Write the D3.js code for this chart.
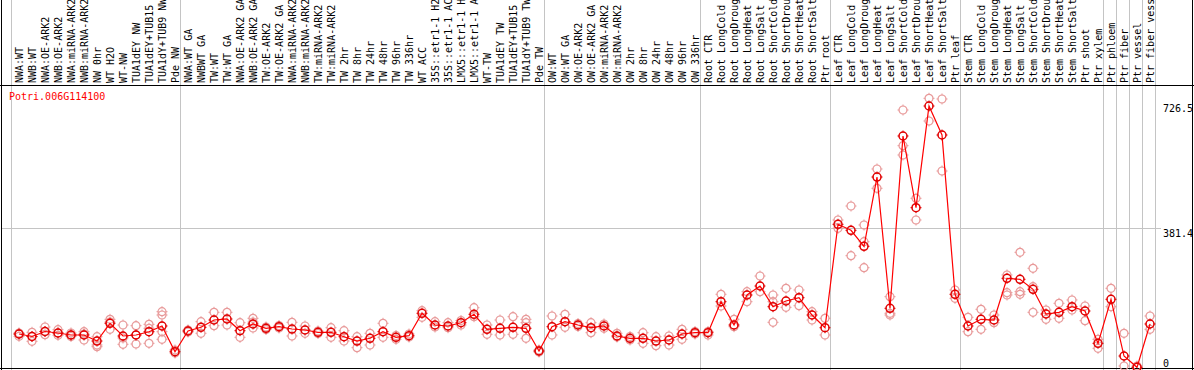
<!DOCTYPE html>
<html>
<head>
<meta charset="utf-8">
<script src="https://cdn.jsdelivr.net/npm/d3@7"></script>
<style>
  body { margin: 0; background: #fff; }
  svg { display: block; }
  text { font-family: "DejaVu Sans Mono", "Liberation Mono", monospace; font-size: 10px; }
</style>
</head>
<body>
<div id="chart"></div>
<script>
'use strict'
// sample labels, left to right
const samples = [
  "NWA:WT", "NWB:WT", "NWA:OE-ARK2", "NWB:OE-ARK2", "NWA:miRNA-ARK2", "NWB:miRNA-ARK2",
  "NW 0hr", "WT H2O", "WT-NW", "TUA1dEY NW", "TUA1dEY+TUB15 NW", "TUA1dY+TUB9 NW", "Pde NW",
  "NWA:WT GA", "NWBWT GA", "TW:WT", "TW:WT GA", "NWA:OE-ARK2 GA", "NWB:OE-ARK2 GA",
  "TW:OE-ARK2", "TW:OE-ARK2 GA", "NWA:miRNA-ARK2 GA", "NWB:miRNA-ARK2 GA", "TW:miRNA-ARK2",
  "TW:miRNA-ARK2 GA", "TW 2hr", "TW 8hr", "TW 24hr", "TW 48hr", "TW 96hr", "TW 336hr", "WT ACC",
  "35S::etr1-1 H2O", "35S::etr1-1 ACC", "LMX5::etr1-1 H2O", "LMX5::etr1-1 ACC", "WT-TW",
  "TUA1dEY TW", "TUA1dEY+TUB15 TW", "TUA1dY+TUB9 TW", "Pde TW",
  "OW:WT", "OW:WT GA", "OW:OE-ARK2", "OW:OE-ARK2 GA", "OW:miRNA-ARK2", "OW:miRNA-ARK2 GA",
  "OW 2hr", "OW 8hr", "OW 24hr", "OW 48hr", "OW 96hr", "OW 336hr",
  "Root CTR", "Root LongCold", "Root LongDrought", "Root LongHeat", "Root LongSalt",
  "Root ShortCold", "Root ShortDrought", "Root ShortHeat", "Root ShortSalt", "Ptr root",
  "Leaf CTR", "Leaf LongCold", "Leaf LongDrought", "Leaf LongHeat", "Leaf LongSalt",
  "Leaf ShortCold", "Leaf ShortDrought", "Leaf ShortHeat", "Leaf ShortSalt", "Ptr leaf",
  "Stem CTR", "Stem LongCold", "Stem LongDrought", "Stem LongHeat", "Stem LongSalt",
  "Stem ShortCold", "Stem ShortDrought", "Stem ShortHeat", "Stem ShortSalt", "Ptr shoot", "Ptr xylem",
  "Ptr phloem", "Ptr fiber", "Ptr vessel", "Ptr fiber vessel"
]
// index of the first sample of each group
const groupStarts = [0, 13, 41, 53, 63, 73, 84, 85, 86, 87]

// mean expression level per sample
const means = [
  91.8, 85.0, 98.7, 94.6, 89.1, 89.1, 72.6, 121.2, 86.4, 89.1, 98.1, 113.8, 43.3,
  100.1, 110.2, 130.2, 133.0, 100.9, 119.3, 107.5, 111.9, 105.5, 102.8, 96.5, 96.5, 84.4,
  72.6, 80.1, 98.1, 82.8, 87.2, 148.6, 116.5, 113.8, 122.8, 145.8, 104.7, 107.5, 110.2, 107.5, 45.2,
  111.9, 125.6, 116.5, 109.1, 113.8, 86.4, 80.1, 80.1, 72.6, 75.4, 91.8, 95.4,
  95.4, 180.4, 116.5, 198.8, 223.4, 166.7, 182.3, 191.4, 143.9, 109.1,
  392.6, 376.1, 332.3, 522.2, 162.3, 634.7, 438.1, 716.9, 637.4, 200.7,
  113.8, 132.1, 130.2, 244.5, 241.8, 214.4, 146.7, 151.3, 166.7, 154.9, 66.3,
  187.0, 31.5, 0.5, 119.3
]
// individual replicates per sample
const replicates = [
  [94.6, 85.5, 91.8], [96.5, 71.8, 85.0], [111.0, 89.9, 98.7], [103.6, 88.3, 94.6],
  [94.6, 89.1, 85.0], [98.1, 75.4, 91.8], [84.4, 61.7, 57.0], [132.1, 104.7, 124.7],
  [116.5, 63.6, 80.9], [114.6, 64.4, 89.1], [118.4, 107.5, 66.3], [153.0, 143.9, 98.1, 77.3],
  [48.0, 39.8],
  [102.8, 97.3], [125.6, 93.8], [151.3, 114.6], [151.3, 116.5], [122.8, 82.8],
  [134.9, 124.7, 108.3], [111.0, 104.1], [115.1, 108.3], [123.9, 86.4], [113.8, 93.8],
  [100.1, 93.2], [109.1, 82.8], [100.9, 72.6], [84.4, 54.3], [93.8, 61.7], [121.2, 82.8],
  [87.7, 77.3], [91.8, 83.6], [155.7, 137.6], [125.6, 111.0], [122.8, 109.1], [128.9, 116.5],
  [163.9, 139.3], [116.5, 91.0], [130.2, 89.1], [139.3, 91.0], [132.1, 122.8, 80.1], [48.0, 42.5],
  [141.2, 89.1], [145.8, 110.2], [120.6, 112.4], [122.8, 95.4], [119.3, 107.5], [93.8, 83.6],
  [85.0, 75.4], [95.4, 66.3], [84.4, 59.8], [86.4, 61.7], [104.7, 77.3], [98.7, 91.8],
  [98.7, 89.1], [200.7, 168.6], [132.1, 111.9], [207.8, 180.4], [250.8, 207.8],
  [198.8, 180.4, 123.9], [217.1, 165.0], [212.5, 169.4], [153.0, 130.2], [134.9, 89.1],
  [404.4, 381.6], [442.7, 306.5], [390.7, 344.9, 273.6], [544.2, 491.3], [194.1, 148.6, 143.9],
  [705.9, 608.1, 582.6], [463.9, 404.4], [738.0, 675.8], [736.1, 538.7], [212.5, 189.7],
  [137.6, 98.1], [159.6, 104.7], [143.9, 122.8], [253.6, 205.1, 198.8], [315.8, 207.8, 200.7],
  [272.0, 221.5, 151.3], [157.6, 132.1], [176.0, 134.9], [185.1, 157.6], [168.6, 128.3],
  [77.3, 52.6], [217.1, 166.7], [93.8, 4.1], [4.1, 0], [141.2, 104.7]
]
const yTicks = [0, 381.4, 726.5]
const gridValues = [381.4]
const title = "Potri.006G114100"

const width = 1194
const height = 370
const labelBottom = 85
const red = "#ff0000"
const pink = "#e89a9a"
const gray = "#c4c4c4"

let svg = d3.select("#chart").append("svg")
  .attr("width", width)
  .attr("height", height)

let x = d3.scaleBand()
  .domain(d3.range(samples.length))
  .range([12.5, 1156.5])
let cx = i => x(i) + x.bandwidth() / 2

let y = d3.scaleLinear()
  .domain([0, 726.5])
  .range([367.5, 102.5])

// group separators
svg.append("g").selectAll("line")
  .data(groupStarts.map(i => x(i)).concat([x.range()[1]]))
  .enter().append("line")
  .attr("x1", d => Math.round(d) - 1.5).attr("x2", d => Math.round(d) - 1.5)
  .attr("y1", 0).attr("y2", height)
  .attr("stroke", gray)

// horizontal grid
svg.append("g").selectAll("line")
  .data(gridValues)
  .enter().append("line")
  .attr("x1", 2).attr("x2", 1161)
  .attr("y1", d => Math.round(y(d)) + 0.5).attr("y2", d => Math.round(y(d)) + 0.5)
  .attr("stroke", gray)

// frame
svg.append("line").attr("x1", 0).attr("x2", width).attr("y1", labelBottom + 0.5).attr("y2", labelBottom + 0.5).attr("stroke", "#000")
svg.append("line").attr("x1", 0).attr("x2", width).attr("y1", height - 1.5).attr("y2", height - 1.5).attr("stroke", "#000")
svg.append("line").attr("x1", 1.5).attr("x2", 1.5).attr("y1", 0).attr("y2", height).attr("stroke", "#000")
svg.append("line").attr("x1", width - 1.5).attr("x2", width - 1.5).attr("y1", 0).attr("y2", height).attr("stroke", "#000")

// rotated sample labels
svg.append("g").selectAll("text")
  .data(samples)
  .enter().append("text")
  .attr("transform", (d, i) => "translate(" + (cx(i) + 3.5) + "," + 83 + ")rotate(-90)")
  .attr("text-anchor", "start")
  .attr("fill", "#000")
  .text(d => d)

// title
svg.append("text")
  .attr("x", 9).attr("y", 100)
  .attr("fill", red)
  .text(title)

// y labels
let yAxis = d3.axisRight(y)
  .tickValues(yTicks)
  .tickSize(0)
  .tickPadding(0)
  .tickFormat(d => d)
let ag = svg.append("g")
  .attr("transform", "translate(1163,0)")
  .call(yAxis)
ag.select(".domain").remove()
ag.selectAll("text")
  .attr("font-family", null).attr("font-size", null)
  .attr("fill", "#000")
  .attr("dy", d => d === 0 ? "-0.15em" : "0.85em")

function marker(g, color, sw) {
  g.append("circle").attr("r", 4).attr("fill", "none").attr("stroke", color).attr("stroke-width", sw)
  g.append("path")
    .attr("d", "M0,-5.5V-3.5M0,3.5V5.5M-5.5,0H-3.5M3.5,0H5.5")
    .attr("stroke", color).attr("stroke-width", 1)
}

// replicate points
let reps = []
replicates.forEach((r, i) => r.forEach(v => reps.push({ i: i, v: v })))
svg.append("g").selectAll("g")
  .data(reps)
  .enter().append("g")
  .attr("transform", d => "translate(" + cx(d.i) + "," + y(d.v) + ")")
  .each(function () { marker(d3.select(this), pink, 1.2) })

// mean line
let line = d3.line()
  .x((d, i) => cx(i))
  .y(d => y(d))
svg.append("path")
  .datum(means)
  .attr("d", line)
  .attr("fill", "none")
  .attr("stroke", red)
  .attr("stroke-width", 1.2)

// mean points
svg.append("g").selectAll("g")
  .data(means)
  .enter().append("g")
  .attr("transform", (d, i) => "translate(" + cx(i) + "," + y(d) + ")")
  .each(function () { marker(d3.select(this), "#e00000", 1.5) })
</script>
</body>
</html>
